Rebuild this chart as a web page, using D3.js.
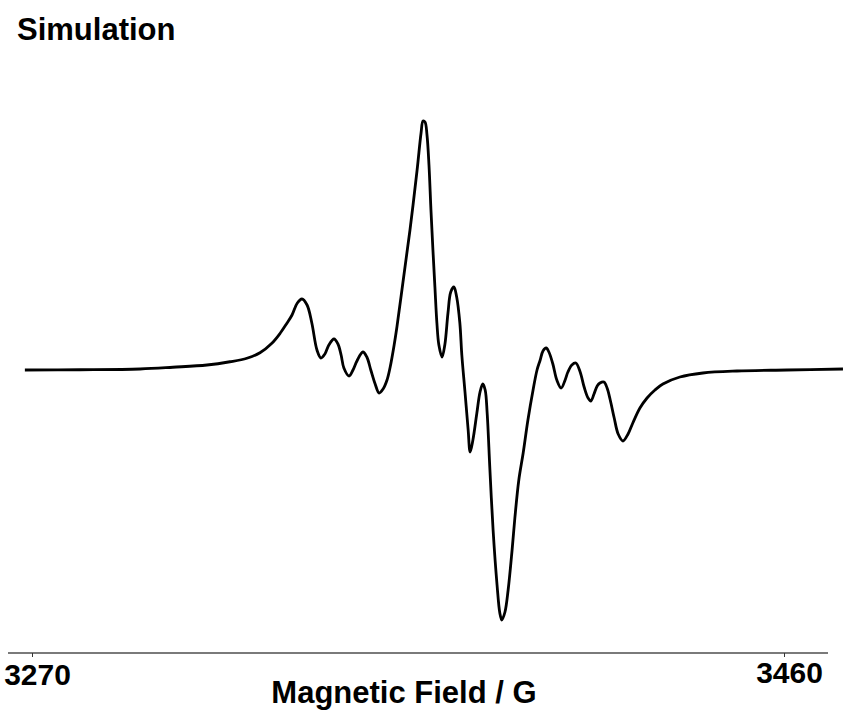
<!DOCTYPE html>
<html>
<head>
<meta charset="utf-8">
<script src="https://cdn.jsdelivr.net/npm/d3@7"></script>
<style>
  html, body { margin: 0; padding: 0; background: #fff; }
  svg { display: block; }
  text { font-family: "Liberation Sans", Arial, sans-serif; font-weight: bold; fill: #000; }
</style>
</head>
<body>
<svg id="chart" width="843" height="711"></svg>
<script>
// Simulated EPR spectrum (first-derivative signal), field in gauss
const fieldG = [
  3268.2, 3282.1, 3297.3, 3305.6, 3314.2, 3320.0, 3324.3, 3327.6, 3330.6, 3332.7,
  3334.4, 3335.7, 3337.0, 3338.2, 3339.5, 3340.7, 3342.0, 3343.0, 3344.0, 3345.0,
  3346.3, 3347.3, 3348.1, 3348.8, 3350.1, 3351.1, 3352.1, 3353.6, 3354.6, 3355.6,
  3356.7, 3357.7, 3358.7, 3359.7, 3360.5, 3361.5, 3362.2, 3363.7, 3365.5, 3367.3,
  3368.3, 3368.8, 3369.3, 3369.8, 3370.3, 3370.8, 3371.3, 3371.8, 3372.3, 3372.8,
  3373.6, 3374.3, 3375.1, 3375.8, 3376.6, 3377.3, 3378.1, 3378.6, 3379.4, 3380.2,
  3380.7, 3381.4, 3382.4, 3383.2, 3383.9, 3384.5, 3385.0, 3385.7, 3386.5, 3387.5,
  3388.2, 3388.7, 3389.5, 3390.3, 3391.3, 3392.0, 3393.0, 3394.1, 3395.3, 3396.6,
  3397.6, 3398.4, 3399.1, 3399.9, 3400.6, 3401.6, 3402.6, 3403.7, 3404.7, 3405.4,
  3406.4, 3407.4, 3408.5, 3409.5, 3410.5, 3411.2, 3412.0, 3412.8, 3413.5, 3414.5,
  3415.3, 3416.1, 3417.1, 3418.1, 3419.3, 3420.6, 3421.8, 3423.6, 3425.4, 3427.4,
  3429.4, 3433.7, 3439.5, 3448.1, 3460.8, 3474.9
];
const signal = [
  0.000, 0.001, 0.004, 0.011, 0.020, 0.033, 0.047, 0.069, 0.107, 0.147,
  0.187, 0.220, 0.267, 0.284, 0.260, 0.188, 0.080, 0.048, 0.064, 0.100,
  0.124, 0.104, 0.060, 0.008, -0.024, 0.000, 0.036, 0.072, 0.052, 0.000,
  -0.056, -0.092, -0.076, -0.040, 0.012, 0.100, 0.172, 0.348, 0.560, 0.800,
  0.948, 0.996, 0.992, 0.940, 0.820, 0.640, 0.480, 0.332, 0.188, 0.100,
  0.052, 0.100, 0.228, 0.312, 0.332, 0.292, 0.188, 0.060, -0.088, -0.240,
  -0.328, -0.280, -0.172, -0.088, -0.056, -0.080, -0.172, -0.400, -0.640, -0.860,
  -0.972, -1.000, -0.968, -0.880, -0.720, -0.592, -0.440, -0.332, -0.200, -0.080,
  0.000, 0.040, 0.076, 0.088, 0.072, 0.024, -0.040, -0.072, -0.040, -0.008,
  0.020, 0.028, -0.008, -0.068, -0.112, -0.124, -0.096, -0.064, -0.052, -0.048,
  -0.072, -0.120, -0.192, -0.256, -0.284, -0.256, -0.212, -0.152, -0.112, -0.080,
  -0.056, -0.028, -0.012, -0.004, 0.000, 0.004
];
const tickValues = [3270, 3460];
const titleText = "Simulation";
const xAxisTitle = "Magnetic Field / G";

const svg = d3.select("#chart");

const x = d3.scaleLinear().domain([3270, 3460]).range([32, 784]);
const y = d3.scaleLinear().domain([-1, 1]).range([620, 120]);

const axisY = 653;
const [xMin, xMax] = [x.invert(8), x.invert(828)];

// Field axis: grey baseline with short downward ticks
svg.append("line")
  .attr("x1", x(xMin)).attr("x2", x(xMax))
  .attr("y1", axisY).attr("y2", axisY)
  .attr("stroke", "#7a7a7a").attr("stroke-width", 2);

const axis = d3.axisBottom(x).tickValues(tickValues).tickSize(4).tickFormat(d3.format("d"));
const axisG = svg.append("g").attr("transform", `translate(0,${axisY})`).call(axis);
axisG.select(".domain").remove();
axisG.selectAll(".tick line").attr("stroke", "#333").attr("stroke-width", 1);
axisG.selectAll(".tick text")
  .attr("y", 0).attr("dy", 0)
  .attr("transform", (d, i) => `translate(5,${i === 0 ? 32 : 30})`)
  .style("font-size", "30px")
  .style("font-family", "'Liberation Sans', Arial, sans-serif")
  .style("font-weight", "bold")
  .attr("fill", "#000");

// Spectrum trace
const pts = fieldG.map((f, i) => [f, signal[i]]);
const line = d3.line()
  .x(d => x(d[0]))
  .y(d => y(d[1]))
  .curve(d3.curveCatmullRom.alpha(0.5));

svg.append("path")
  .datum(pts)
  .attr("d", line)
  .attr("fill", "none")
  .attr("stroke", "#000")
  .attr("stroke-width", 2.8)
  .attr("stroke-linejoin", "round");

// Titles
svg.append("text")
  .attr("x", 17).attr("y", 40)
  .style("font-size", "31px")
  .text(titleText);

svg.append("text")
  .attr("x", 404).attr("y", 703)
  .attr("text-anchor", "middle")
  .style("font-size", "31px")
  .text(xAxisTitle);
</script>
</body>
</html>
